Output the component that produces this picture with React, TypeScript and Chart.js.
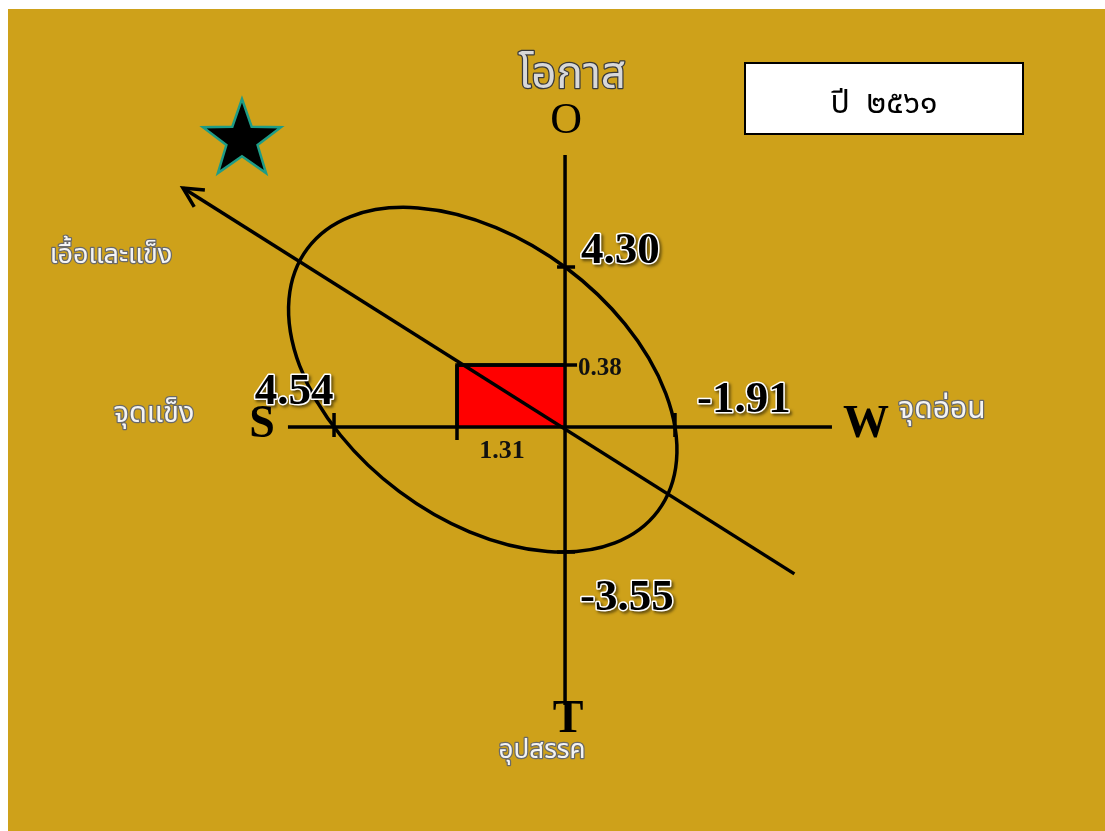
import React, { useEffect, useRef } from 'react';
import { Chart, registerables, LinearScale } from 'chart.js';

// ---------- data ----------
const swLetters = ['S', 'W'];
const swValues = [4.54, -1.91]; // strengths (left), weaknesses (right)
const otLetters = ['O', 'T'];
const otValues = [4.3, -3.55]; // opportunities (up), threats (down)
const netPoint = [1.31, 0.38]; // (S+W)/2, (O+T)/2
const axisXEnds = [6, -4];
const axisYEnds = [6, -6];
const arrowFrom = [-3.5, -3.9];
const arrowTo = [8, 5.5];
const thaiAxisNames = ['จุดแข็ง', 'จุดอ่อน', 'โอกาส', 'อุปสรรค'];
const quadrantName = 'เอื้อและแข็ง';
const yearLabel = 'ปี  ๒๕๖๑';

// ---------- non-proportional (schematic) scale ----------
const X_BREAKS = [
  [-4, 0.7511],
  [-1.91, 0.608],
  [0, 0.5078],
  [1.31, 0.4093],
  [4.54, 0.2972],
  [6, 0.2552],
  [8, 0.1595],
];
const Y_BREAKS = [
  [-6, 0.1533],
  [-3.55, 0.3394],
  [0, 0.4915],
  [0.38, 0.5669],
  [4.3, 0.6861],
  [6, 0.8224],
];

class PiecewiseScale extends LinearScale {
  static id = 'piecewise';
  static defaults = LinearScale.defaults;
  _breaks(): number[][] {
    return this.axis === 'x' ? X_BREAKS : Y_BREAKS;
  }
  getPixelForValue(value: number) {
    const br = this._breaks();
    let i = 0;
    while (i < br.length - 2 && value > br[i + 1][0]) i++;
    const [v0, d0] = br[i];
    const [v1, d1] = br[i + 1];
    return this.getPixelForDecimal(d0 + ((value - v0) * (d1 - d0)) / (v1 - v0));
  }
  getValueForPixel(pixel: number) {
    const dec = this.getDecimalForPixel(pixel);
    const br = this._breaks();
    let i = 0;
    while (i < br.length - 2) {
      const a = br[i][1], b = br[i + 1][1];
      if ((dec - a) * (dec - b) <= 0) break;
      i++;
    }
    const [v0, d0] = br[i];
    const [v1, d1] = br[i + 1];
    return v0 + ((dec - d0) * (v1 - v0)) / (d1 - d0);
  }
}

Chart.register(...registerables, PiecewiseScale);

const ELLIPSE_TILT = -0.92;
const LINE_W = 3.5;
const SERIF = "'Liberation Serif', 'DejaVu Serif', serif";
const THAI = "'Noto Sans Thai', 'Noto Sans', 'DejaVu Sans', sans-serif";

function embossText(ctx: CanvasRenderingContext2D, text: string, x: number, y: number, font: string, align: CanvasTextAlign) {
  ctx.save();
  ctx.font = font;
  ctx.textAlign = align;
  ctx.textBaseline = 'alphabetic';
  ctx.lineJoin = 'round';
  ctx.shadowColor = 'rgba(0,0,0,0.55)';
  ctx.shadowOffsetX = 2;
  ctx.shadowOffsetY = 2;
  ctx.shadowBlur = 3;
  ctx.strokeStyle = '#ffffff';
  ctx.lineWidth = 3;
  ctx.strokeText(text, x, y);
  ctx.shadowColor = 'transparent';
  ctx.fillStyle = '#000000';
  ctx.fillText(text, x, y);
  ctx.restore();
}

function thaiText(ctx: CanvasRenderingContext2D, text: string, x: number, y: number, size: number, fill: string, stroke: string) {
  ctx.save();
  ctx.font = `${size}px ${THAI}`;
  ctx.textAlign = 'center';
  ctx.textBaseline = 'alphabetic';
  ctx.lineJoin = 'round';
  ctx.strokeStyle = stroke;
  ctx.lineWidth = 2.5;
  ctx.strokeText(text, x, y);
  ctx.fillStyle = fill;
  ctx.fillText(text, x, y);
  ctx.restore();
}

function plainText(ctx: CanvasRenderingContext2D, text: string, x: number, y: number, font: string, align: CanvasTextAlign, color = '#000') {
  ctx.save();
  ctx.font = font;
  ctx.textAlign = align;
  ctx.textBaseline = 'alphabetic';
  ctx.fillStyle = color;
  ctx.fillText(text, x, y);
  ctx.restore();
}

const diagramPlugin = {
  id: 'swotDiagram',
  afterDatasetsDraw(chart: any) {
    const ctx: CanvasRenderingContext2D = chart.ctx;
    const xs = chart.scales.x;
    const ys = chart.scales.y;
    const X = (v: number) => xs.getPixelForValue(v);
    const Y = (v: number) => ys.getPixelForValue(v);
    const x0 = X(0);
    const y0 = Y(0);

    // ---- ellipse through the four axis scores ----
    const a = X(swValues[0]) - x0;
    const c = X(swValues[1]) - x0;
    const b = Y(otValues[0]) - y0;
    const d = Y(otValues[1]) - y0;
    const D = -(a + c);
    const F = a * c;
    const C = F / (b * d);
    const E = -C * (b + d);
    const B = ELLIPSE_TILT;
    const det2 = 4 * C - B * B;
    const xc = (-2 * C * D + B * E) / det2;
    const yc = (-2 * E + B * D) / det2;
    const Fp = F + (D * xc + E * yc) / 2;
    const th = 0.5 * Math.atan2(B, 1 - C);
    const cs = Math.cos(th), sn = Math.sin(th);
    const Ap = cs * cs + B * sn * cs + C * sn * sn;
    const Cp = sn * sn - B * sn * cs + C * cs * cs;
    const rx = Math.sqrt(-Fp / Ap);
    const ry = Math.sqrt(-Fp / Cp);
    ctx.save();
    ctx.beginPath();
    ctx.ellipse(x0 + xc, y0 + yc, rx, ry, th, 0, Math.PI * 2);
    ctx.strokeStyle = '#000';
    ctx.lineWidth = LINE_W;
    ctx.stroke();

    // ---- tick marks ----
    ctx.lineWidth = 3.5;
    ctx.beginPath();
    swValues.forEach((v) => {
      ctx.moveTo(X(v), y0 - 14);
      ctx.lineTo(X(v), y0 + 10);
    });
    otValues.forEach((v) => {
      ctx.moveTo(x0 - 8, Y(v));
      ctx.lineTo(x0 + 10, Y(v));
    });
    ctx.moveTo(X(netPoint[0]), Y(netPoint[1]));
    ctx.lineTo(X(netPoint[0]), y0 + 13);
    ctx.moveTo(X(netPoint[0]), Y(netPoint[1]));
    ctx.lineTo(x0 + 12, Y(netPoint[1]));
    ctx.stroke();

    // ---- arrow head ----
    const tx = X(arrowTo[0]), ty = Y(arrowTo[1]);
    const fx = X(arrowFrom[0]), fy = Y(arrowFrom[1]);
    const ang = Math.atan2(fy - ty, fx - tx);
    const L = 22, half = (27 * Math.PI) / 180;
    ctx.beginPath();
    ctx.moveTo(tx + L * Math.cos(ang - half), ty + L * Math.sin(ang - half));
    ctx.lineTo(tx, ty);
    ctx.lineTo(tx + L * Math.cos(ang + half), ty + L * Math.sin(ang + half));
    ctx.lineWidth = LINE_W;
    ctx.lineJoin = 'miter';
    ctx.stroke();

    // ---- star (strategy position marker) ----
    const sx = tx + 59, sy = ty - 48, R = 41, r = R * 0.4;
    ctx.beginPath();
    for (let k = 0; k < 10; k++) {
      const rr = k % 2 === 0 ? R : r;
      const an = -Math.PI / 2 + (k * Math.PI) / 5;
      const px = sx + rr * Math.cos(an), py = sy + rr * Math.sin(an);
      if (k === 0) ctx.moveTo(px, py);
      else ctx.lineTo(px, py);
    }
    ctx.closePath();
    ctx.fillStyle = '#000';
    ctx.fill();
    ctx.strokeStyle = '#1f9c86';
    ctx.lineWidth = 2.5;
    ctx.stroke();
    ctx.restore();

    // ---- year box ----
    ctx.save();
    ctx.fillStyle = '#fff';
    ctx.fillRect(737, 54, 278, 71);
    ctx.strokeStyle = '#000';
    ctx.lineWidth = 2;
    ctx.strokeRect(737, 54, 278, 71);
    ctx.restore();
    plainText(ctx, yearLabel, 876, 104, `32px ${THAI}`, 'center');

    // ---- score labels ----
    const big = `bold 45px ${SERIF}`;
    embossText(ctx, otValues[0].toFixed(2), x0 + 16, Y(otValues[0]) - 4, big, 'left');
    embossText(ctx, otValues[1].toFixed(2), x0 + 15, Y(otValues[1]) + 58, big, 'left');
    embossText(ctx, swValues[0].toFixed(2), X(swValues[0]) - 40, y0 - 23, big, 'center');
    embossText(ctx, swValues[1].toFixed(2), X(swValues[1]) + 69, y0 - 15, big, 'center');
    plainText(ctx, netPoint[1].toFixed(2), x0 + 13, Y(netPoint[1]) + 10, `bold 25px ${SERIF}`, 'left', '#111');
    plainText(ctx, netPoint[0].toFixed(2), (X(netPoint[0]) + x0) / 2 - 9, y0 + 31, `bold 26px ${SERIF}`, 'center', '#111');

    // ---- axis letters ----
    plainText(ctx, otLetters[0], x0 + 1, Y(axisYEnds[0]) - 22, `44px ${SERIF}`, 'center');
    plainText(ctx, otLetters[1], x0 + 3, Y(axisYEnds[1]) + 27, `bold 46px ${SERIF}`, 'center');
    plainText(ctx, swLetters[0], X(axisXEnds[0]) - 26, y0 + 10, `bold 46px ${SERIF}`, 'center');
    plainText(ctx, swLetters[1], X(axisXEnds[1]) + 34, y0 + 10, `bold 46px ${SERIF}`, 'center');

    // ---- Thai names ----
    thaiText(ctx, thaiAxisNames[2], x0 + 7, Y(axisYEnds[0]) - 67, 44, '#d8d8d8', '#3a3a3a');
    thaiText(ctx, thaiAxisNames[0], X(axisXEnds[0]) - 134, y0 - 5, 29, '#f4f4f4', '#6a6a6a');
    thaiText(ctx, thaiAxisNames[1], X(axisXEnds[1]) + 110, y0 - 9, 30, '#f4f4f4', '#6a6a6a');
    thaiText(ctx, thaiAxisNames[3], x0 - 23, Y(axisYEnds[1]) + 53, 26, '#f4f4f4', '#6a6a6a');
    thaiText(ctx, quadrantName, 103, 254, 27, '#f4f4f4', '#6a6a6a');
  },
};

export default function App() {
  const ref = useRef<HTMLCanvasElement>(null);
  useEffect(() => {
    if (!ref.current) return;
    const line = (data: { x: number; y: number }[], extra: any = {}) => ({
      data,
      showLine: true,
      borderColor: '#000',
      borderWidth: LINE_W,
      pointRadius: 0,
      fill: false,
      ...extra,
    });
    const chart = new Chart(ref.current, {
      type: 'scatter',
      data: {
        datasets: [
          line([
            { x: arrowFrom[0], y: arrowFrom[1] },
            { x: arrowTo[0], y: arrowTo[1] },
          ], { order: 1 }),
          line([
            { x: axisXEnds[0], y: 0 },
            { x: axisXEnds[1], y: 0 },
          ], { order: 5 }),
          line([
            { x: 0, y: axisYEnds[0] },
            { x: 0, y: axisYEnds[1] },
          ], { order: 5 }),
          line([
            { x: 0, y: netPoint[1] },
            { x: netPoint[0], y: netPoint[1] },
            { x: netPoint[0], y: 0 },
          ], { order: 10, fill: 'origin', backgroundColor: '#ff0000' }),
        ],
      },
      options: {
        responsive: false,
        animation: false,
        events: [],
        layout: { padding: 0 },
        plugins: { legend: { display: false }, tooltip: { enabled: false }, title: { display: false } },
        scales: {
          x: { type: 'piecewise' as any, position: 'bottom', min: -4, max: 8, display: false },
          y: { type: 'piecewise' as any, position: 'left', min: -6, max: 6, display: false },
        },
      },
      plugins: [diagramPlugin],
    });
    return () => chart.destroy();
  }, []);
  return (
    <div style={{ position: 'fixed', left: 8, top: 9, width: 1097, height: 822, background: '#CEA11A' }}>
      <canvas ref={ref} width={1097} height={822} style={{ display: 'block' }} />
    </div>
  );
}
